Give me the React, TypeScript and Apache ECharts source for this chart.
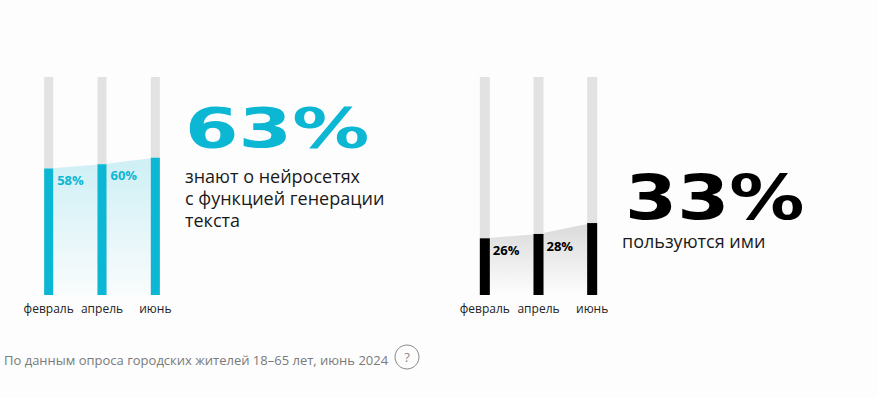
import React, { useEffect, useRef } from "react";
import * as echarts from "echarts";

const months = ["февраль", "апрель", "июнь"];
const knowValues = [58, 60, 63];
const useValues = [26, 28, 33];
const knowTitle = "63%";
const knowText = "знают о нейросетях\nс функцией генерации\nтекста";
const useTitle = "33%";
const useText = "пользуются ими";
const footnote = "По данным опроса городских жителей 18–65 лет, июнь 2024";

const CYAN = "#0cb7d4";
const FONT = "'Open Sans', 'Noto Sans', sans-serif";
const BIG = "'DejaVu Sans', sans-serif";

export default function App() {
  const ref = useRef<HTMLDivElement>(null);
  useEffect(() => {
    if (!ref.current) return;
    const chart = echarts.init(ref.current, undefined, { renderer: "svg" });
    const barLabel = (color: string, dy: number) => ({
      show: true,
      position: [13, dy],
      align: "left",
      verticalAlign: "middle",
      color,
      fontFamily: FONT,
      fontWeight: "bold",
      fontSize: 13,
      formatter: (p: any) => (p.dataIndex === months.length - 1 ? "" : p.value + "%"),
    });
    const xAxisBase = (gridIndex: number) => ({
      type: "category",
      gridIndex,
      data: months,
      axisLine: { show: false },
      axisTick: { show: false },
      axisLabel: {
        color: "#222",
        fontSize: 12,
        fontFamily: FONT,
        margin: 7,
        interval: 0,
        hideOverlap: false,
      },
    });
    const yAxisBase = (gridIndex: number) => ({
      type: "value",
      gridIndex,
      min: 0,
      max: 100,
      show: false,
    });
    chart.setOption({
      animation: false,
      backgroundColor: "#fdfdfd",
      grid: [
        { left: 22, top: 77, width: 160, height: 218 },
        { left: 458, top: 77, width: 161, height: 218 },
      ],
      xAxis: [xAxisBase(0), xAxisBase(1)],
      yAxis: [yAxisBase(0), yAxisBase(1)],
      series: [
        {
          type: "line",
          xAxisIndex: 0,
          yAxisIndex: 0,
          data: knowValues,
          symbol: "none",
          lineStyle: { width: 0 },
          z: 1,
          areaStyle: {
            color: new echarts.graphic.LinearGradient(0, 0, 0, 1, [
              { offset: 0, color: "rgba(12,183,212,0.28)" },
              { offset: 1, color: "rgba(12,183,212,0.02)" },
            ]),
          },
        },
        {
          type: "bar",
          xAxisIndex: 0,
          yAxisIndex: 0,
          data: knowValues,
          barWidth: 9,
          z: 3,
          itemStyle: { color: CYAN },
          showBackground: true,
          backgroundStyle: { color: "#e2e2e2" },
          label: barLabel(CYAN, 11),
        },
        {
          type: "line",
          xAxisIndex: 1,
          yAxisIndex: 1,
          data: useValues,
          symbol: "none",
          lineStyle: { width: 0 },
          z: 1,
          areaStyle: {
            color: new echarts.graphic.LinearGradient(0, 0, 0, 1, [
              { offset: 0, color: "rgba(0,0,0,0.2)" },
              { offset: 1, color: "rgba(0,0,0,0.0)" },
            ]),
          },
        },
        {
          type: "bar",
          xAxisIndex: 1,
          yAxisIndex: 1,
          data: useValues,
          barWidth: 10,
          z: 3,
          itemStyle: { color: "#000" },
          showBackground: true,
          backgroundStyle: { color: "#e2e2e2" },
          label: barLabel("#000", 12),
        },
      ],
      graphic: [
        {
          type: "text",
          x: 185,
          y: 128,
          scaleX: 1.4,
          style: {
            text: knowTitle,
            fill: CYAN,
            font: `bold 55px ${BIG}`,
            align: "left",
            verticalAlign: "middle",
          },
        },
        {
          type: "text",
          x: 185,
          y: 165,
          style: {
            text: knowText,
            fill: "#1a1a1a",
            fontFamily: FONT,
            fontSize: 18,
            lineHeight: 22,
            align: "left",
            verticalAlign: "top",
          },
        },
        {
          type: "text",
          x: 625,
          y: 197,
          scaleX: 1.19,
          style: {
            text: useTitle,
            fill: "#000",
            font: `bold 63px ${BIG}`,
            align: "left",
            verticalAlign: "middle",
          },
        },
        {
          type: "text",
          x: 622,
          y: 241,
          style: {
            text: useText,
            fill: "#1a1a1a",
            fontFamily: FONT,
            fontSize: 18,
            align: "left",
            verticalAlign: "middle",
          },
        },
        {
          type: "text",
          x: 4,
          y: 360,
          style: {
            text: footnote,
            fill: "#7a7a7a",
            fontFamily: FONT,
            fontSize: 13,
            align: "left",
            verticalAlign: "middle",
          },
        },
        {
          type: "circle",
          shape: { cx: 407, cy: 357, r: 12 },
          style: { fill: "none", stroke: "#8a8a8a", lineWidth: 1 },
        },
        {
          type: "text",
          x: 407,
          y: 357,
          style: {
            text: "?",
            fill: "#8a8a8a",
            fontFamily: FONT,
            fontSize: 13,
            align: "center",
            verticalAlign: "middle",
          },
        },
      ],
    });
    return () => chart.dispose();
  }, []);
  return (
    <div
      ref={ref}
      style={{ position: "absolute", left: 0, top: 0, width: 877, height: 398 }}
    />
  );
}
